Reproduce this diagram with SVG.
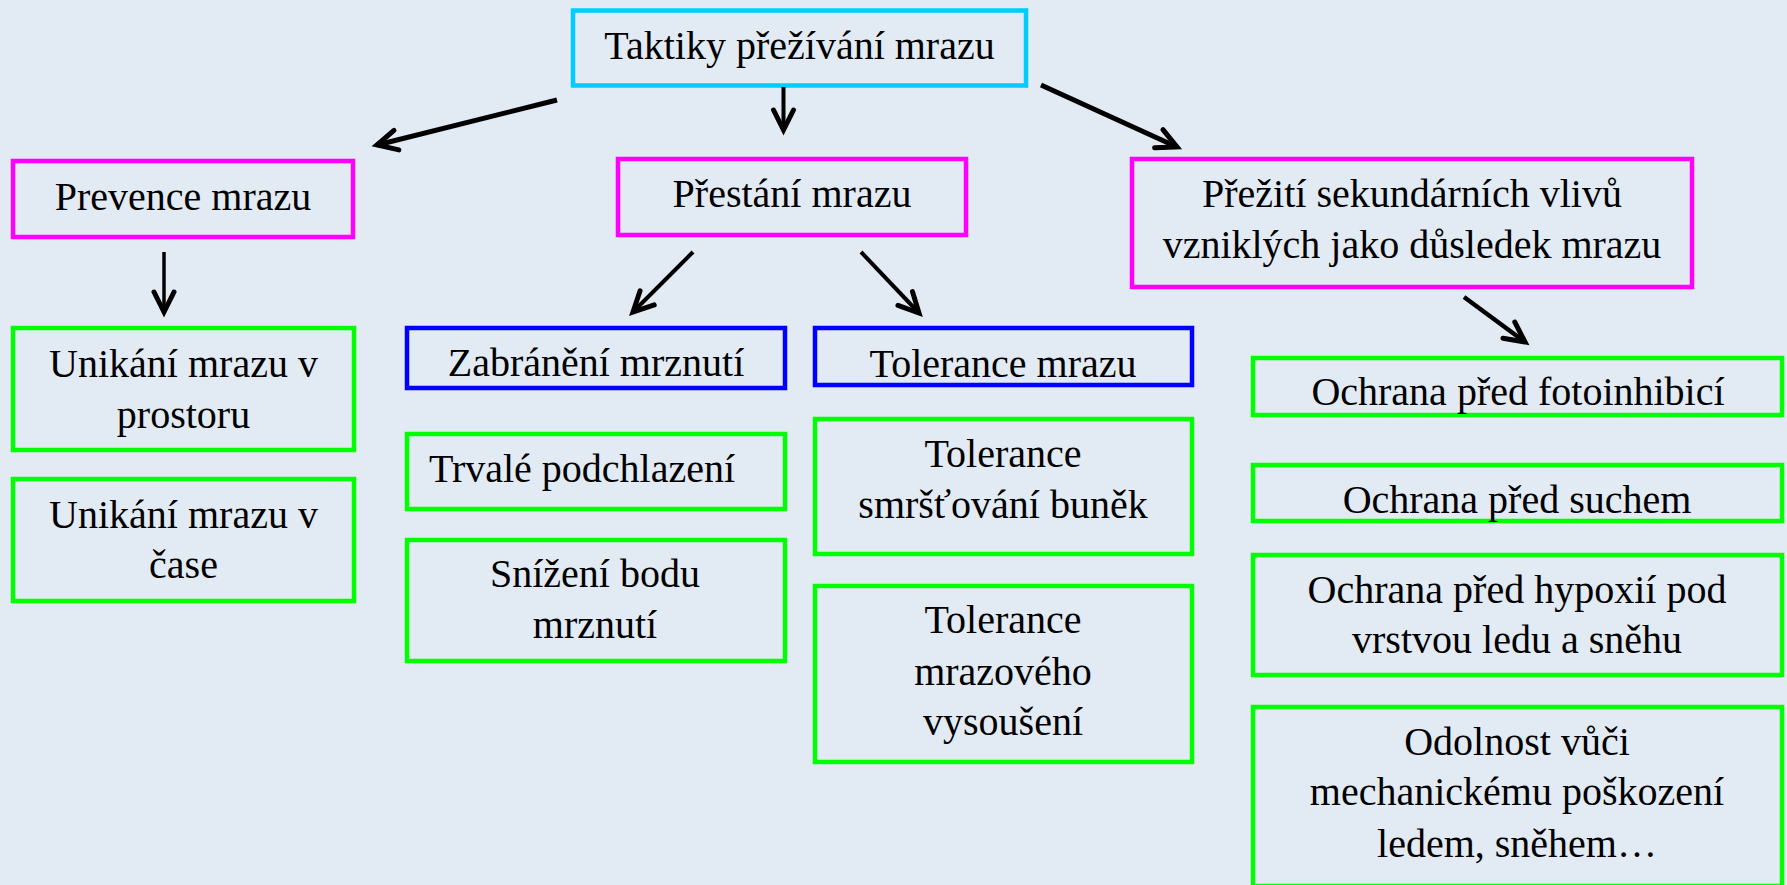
<svg xmlns="http://www.w3.org/2000/svg" width="1787" height="885" viewBox="0 0 1787 885">
<defs>
<style>
.box{fill:none;stroke-width:4.5}
.c{stroke:#00CCFF}
.m{stroke:#FF00FF}
.b{stroke:#0000FF}
.g{stroke:#00FF00}
text{font-family:"Liberation Serif","Times New Roman",serif;font-size:40px;fill:#000;text-anchor:middle}
.conn line{stroke:#000;fill:none}
</style>
<marker id="ah" markerUnits="userSpaceOnUse" markerWidth="30" markerHeight="30" refX="0" refY="0" orient="auto" overflow="visible">
<path d="M-20,-10 L0,0 L-20,10" fill="none" stroke="#000" stroke-width="5" stroke-linejoin="miter" stroke-linecap="round"/>
</marker>
</defs>
<rect x="0" y="0" width="1787" height="885" fill="#E2EAF3"/>

<g id="taktiky"><rect class="box c" x="573" y="10.5" width="453" height="75"/><text x="799.5" y="59">Taktiky přežívání mrazu</text></g>

<g id="prevence"><rect class="box m" x="13" y="161" width="340" height="76"/><text x="183" y="210">Prevence mrazu</text></g>
<g id="prestani"><rect class="box m" x="618" y="159" width="348" height="76"/><text x="792" y="207">Přestání mrazu</text></g>
<g id="preziti"><rect class="box m" x="1132" y="159" width="560" height="128"/><text x="1412" y="207">Přežití sekundárních vlivů</text><text x="1412" y="258">vzniklých jako důsledek mrazu</text></g>

<g id="unikani-prostor"><rect class="box g" x="13" y="328" width="341" height="122"/><text x="183.5" y="377">Unikání mrazu v</text><text x="183.5" y="428">prostoru</text></g>
<g id="unikani-cas"><rect class="box g" x="13" y="479" width="341" height="122"/><text x="183.5" y="528">Unikání mrazu v</text><text x="183.5" y="578">čase</text></g>

<g id="zabraneni"><rect class="box b" x="407" y="328" width="378" height="60"/><text x="596" y="376">Zabránění mrznutí</text></g>
<g id="trvale"><rect class="box g" x="407" y="434" width="378" height="75"/><text x="582" y="482">Trvalé podchlazení</text></g>
<g id="snizeni"><rect class="box g" x="407" y="540" width="378" height="121"/><text x="595" y="587">Snížení bodu</text><text x="595" y="638">mrznutí</text></g>

<g id="tolerance"><rect class="box b" x="815" y="328" width="377" height="57"/><text x="1003" y="377">Tolerance mrazu</text></g>
<g id="tol-smrst"><rect class="box g" x="815" y="419" width="377" height="135"/><text x="1003" y="467">Tolerance</text><text x="1003" y="518">smršťování buněk</text></g>
<g id="tol-vysouseni"><rect class="box g" x="815" y="586" width="377" height="176"/><text x="1003" y="633">Tolerance</text><text x="1003" y="685">mrazového</text><text x="1003" y="735">vysoušení</text></g>

<g id="fotoinhibice"><rect class="box g" x="1253" y="358" width="529" height="57"/><text x="1518" y="405">Ochrana před fotoinhibicí</text></g>
<g id="sucho"><rect class="box g" x="1253" y="465" width="529" height="56"/><text x="1517" y="513">Ochrana před suchem</text></g>
<g id="hypoxie"><rect class="box g" x="1253" y="555" width="529" height="120"/><text x="1517" y="603">Ochrana před hypoxií pod</text><text x="1517" y="653">vrstvou ledu a sněhu</text></g>
<g id="odolnost"><rect class="box g" x="1253" y="707" width="529" height="179"/><text x="1517" y="755">Odolnost vůči</text><text x="1517" y="805">mechanickému poškození</text><text x="1517" y="857">ledem, sněhem…</text></g>

<g id="connectors" class="conn">
<line x1="557" y1="100" x2="377" y2="145" stroke-width="5" marker-end="url(#ah)"/>
<line x1="783.5" y1="87" x2="783.5" y2="130" stroke-width="4" marker-end="url(#ah)"/>
<line x1="1041" y1="85" x2="1177" y2="147" stroke-width="5" marker-end="url(#ah)"/>
<line x1="164" y1="252" x2="164" y2="312" stroke-width="3.5" marker-end="url(#ah)"/>
<line x1="693" y1="252" x2="633" y2="312" stroke-width="4" marker-end="url(#ah)"/>
<line x1="861" y1="252" x2="919" y2="313" stroke-width="4" marker-end="url(#ah)"/>
<line x1="1464" y1="297" x2="1525" y2="342" stroke-width="4.5" marker-end="url(#ah)"/>
</g>
</svg>
